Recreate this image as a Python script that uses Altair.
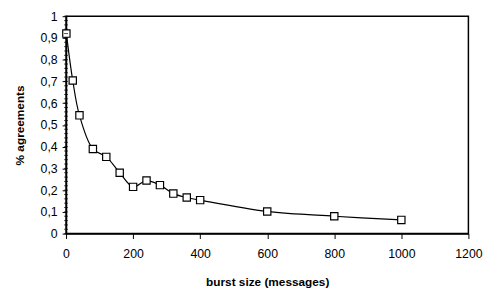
import altair as alt
import pandas as pd

burst = [1, 20, 40, 80, 120, 160, 200, 240, 280, 320, 360, 400, 600, 800, 1000]
agree = [0.92, 0.704, 0.544, 0.389, 0.353, 0.28, 0.215, 0.244, 0.223, 0.184, 0.166, 0.154, 0.102, 0.080, 0.063]
x_ticks = [0, 200, 400, 600, 800, 1000, 1200]
y_ticks = [0, 0.1, 0.2, 0.3, 0.4, 0.5, 0.6, 0.7, 0.8, 0.9, 1.0]
minor_ticks = [round(i * 0.02, 2) for i in range(51)]

df = pd.DataFrame({"burst": burst, "agree": agree})
minor = pd.DataFrame({"m": minor_ticks})

FONT = "Liberation Sans"

xs = alt.Scale(domain=[0, 1200], nice=False)
ys = alt.Scale(domain=[0, 1], nice=False)

x_axis = alt.Axis(
    values=x_ticks, title="burst size (messages)", grid=False, format="d",
    labelOverlap=False, labelFlush=False,
    tickSize=5, labelPadding=9, titlePadding=17,
    domainColor="black", tickColor="black", labelColor="black",
    domainWidth=1.5,
    labelFont=FONT, labelFontSize=12.5, titleFont=FONT, titleFontSize=12,
    titleFontWeight="bold", titleColor="black")
y_axis = alt.Axis(
    values=y_ticks, title="% agreements", grid=False,
    labelOverlap=False, labelFlush=False,
    tickSize=4, labelPadding=5, titlePadding=14,
    labelExpr="replace(toString(datum.value), '.', ',')",
    domainColor="black", tickColor="black", labelColor="black",
    domainWidth=1.5,
    labelFont=FONT, labelFontSize=12.5, titleFont=FONT, titleFontSize=12,
    titleFontWeight="bold", titleColor="black")

x_enc = alt.X("burst:Q", scale=xs, axis=x_axis)
y_enc = alt.Y("agree:Q", scale=ys, axis=y_axis)

line = alt.Chart(df).mark_line(color="black", strokeWidth=1.2, interpolate="catmull-rom").encode(x=x_enc, y=y_enc)
pts = alt.Chart(df).mark_point(shape="square", size=55, filled=True, fill="white", stroke="black", strokeWidth=1.2, opacity=1).encode(x=x_enc, y=y_enc)
mt = alt.Chart(minor).mark_tick(orient="horizontal", color="black", size=4, thickness=1).encode(
    y=alt.Y("m:Q", scale=ys, axis=y_axis), x=alt.value(0))

chart = alt.layer(line, pts, mt).properties(
    width=409, height=221,
    view=alt.ViewBackground(stroke="black", strokeWidth=1.5, fill="white"),
    autosize=alt.AutoSizeParams(type="none"),
    padding={"left": 59, "top": 6, "right": 25, "bottom": 56},
).configure_view(stroke="black", strokeWidth=1.5).configure(background="white")

chart.save("out.html", embed_options={"renderer": "svg", "actions": False})
